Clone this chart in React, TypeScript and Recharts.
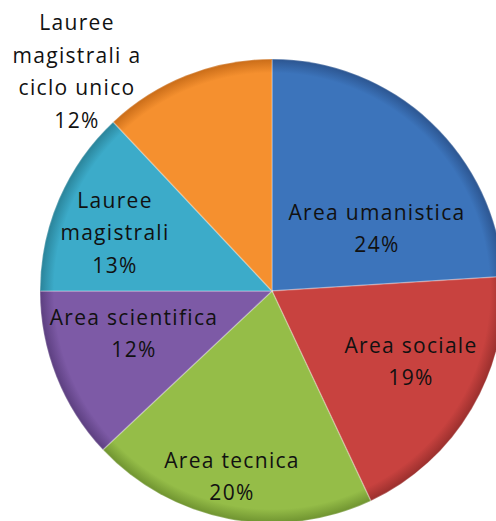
import { PieChart, Pie, Cell } from "recharts";

const categories = [
  "Area umanistica",
  "Area sociale",
  "Area tecnica",
  "Area scientifica",
  "Lauree magistrali",
  "Lauree magistrali a ciclo unico",
];
const shares = [24, 19, 20, 12, 13, 12];

// label text split into lines, as in the original
const labelLines = [
  ["Area umanistica"],
  ["Area sociale"],
  ["Area tecnica"],
  ["Area scientifica"],
  ["Lauree", "magistrali"],
  ["Lauree", "magistrali a", "ciclo unico"],
];

const colors = ["#3c74bb", "#c8423f", "#95bd48", "#7d5aa6", "#3cabc9", "#f5902f"];
const edgeColors = ["#2c5590", "#9a2f2d", "#6f9330", "#5c3f80", "#2a8399", "#c96c18"];

// label centre offsets from the pie centre (Excel "best fit" placement)
const labelOffsets = [
  [105, -63],
  [139, 70],
  [-40, 185],
  [-138, 42],
  [-157, -59],
  [-195, -220],
];

const data = categories.map((name, i) => ({ name, value: shares[i] }));

const CX = 272;
const CY = 291;
const R = 232;

function renderLabel(props: any) {
  const { index, percent } = props;
  const lines = [...labelLines[index], `${Math.round(percent * 100)}%`];
  const [dx, dy] = labelOffsets[index];
  const lineH = 32.5;
  const top = CY + dy - ((lines.length - 1) * lineH) / 2;
  return (
    <text
      key={`lbl-${index}`}
      x={CX + dx}
      textAnchor="middle"
      fill="#111"
      fontSize={21}
      fontFamily="'Open Sans', sans-serif"
      letterSpacing={1.3}
    >
      {lines.map((l, j) => (
        <tspan key={j} x={CX + dx} y={top + j * lineH} dominantBaseline="central">
          {l}
        </tspan>
      ))}
    </text>
  );
}

export default function App() {
  return (
    <div style={{ width: 496, height: 521, background: "#fff" }}>
      <style>{`body{margin:0}`}</style>
      <PieChart width={496} height={521} margin={{ top: 0, right: 0, bottom: 0, left: 0 }}>
        <defs>
          {colors.map((c, i) => (
            <radialGradient
              key={`g${i}`}
              id={`grad${i}`}
              gradientUnits="userSpaceOnUse"
              cx={CX}
              cy={CY}
              r={R}
            >
              <stop offset="0%" stopColor={c} />
              <stop offset="94%" stopColor={c} />
              <stop offset="100%" stopColor={edgeColors[i]} />
            </radialGradient>
          ))}
        </defs>
        <Pie
          data={data}
          dataKey="value"
          nameKey="name"
          cx={CX}
          cy={CY}
          outerRadius={R}
          startAngle={90}
          endAngle={-270}
          stroke="rgba(255,255,255,0.25)"
          strokeWidth={1.5}
          label={renderLabel}
          labelLine={false}
          isAnimationActive={false}
        >
          {data.map((d, i) => (
            <Cell key={d.name} fill={`url(#grad${i})`} />
          ))}
        </Pie>
      </PieChart>
    </div>
  );
}
